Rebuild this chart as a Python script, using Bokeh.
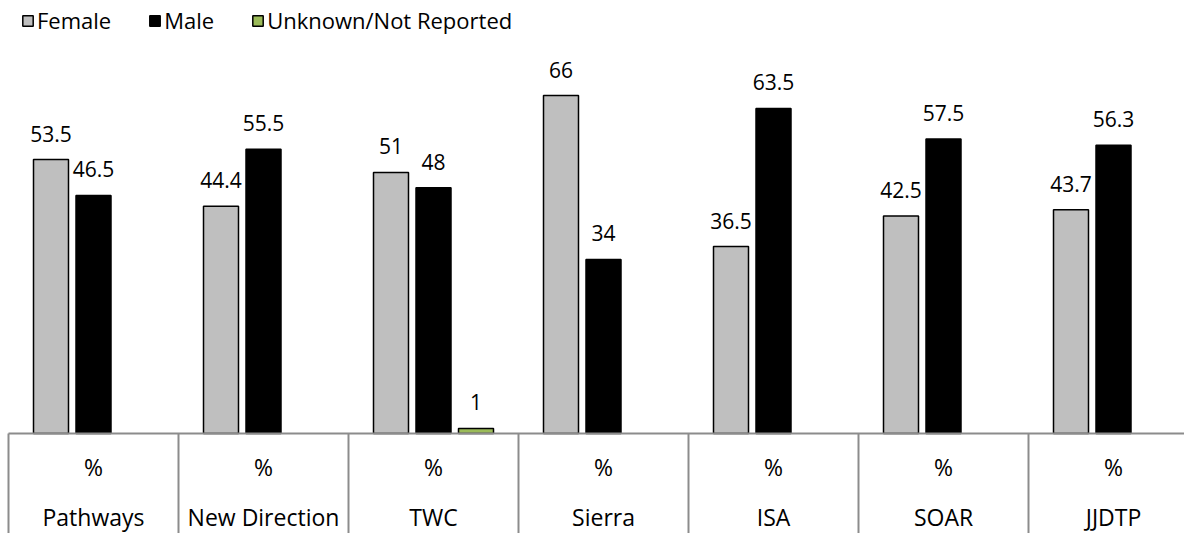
import numpy as np
from bokeh.plotting import figure
from bokeh.models import Range1d, ColumnDataSource, Legend, LegendItem
from bokeh.embed import file_html
from bokeh.resources import INLINE
from bokeh.core.properties import value

# Gender breakdown (%) by program
programs = ["Pathways", "New Direction", "TWC", "Sierra", "ISA", "SOAR", "JJDTP"]
unit_row = ["%", "%", "%", "%", "%", "%", "%"]
female = [53.5, 44.4, 51, 66, 36.5, 42.5, 43.7]
male = [46.5, 55.5, 48, 34, 63.5, 57.5, 56.3]
unknown = [None, None, 1, None, None, None, None]

FONT = "Open Sans"
W, H = 1184, 533
CAT_PX = 170.0          # width of one category cell in pixels
LEFT_PX = 8.0           # left edge of the category table
BASE_PX = 433.0         # baseline position from the top
PX_PER_UNIT = 5.12      # vertical pixels per percent

cx = np.arange(len(programs), dtype=float)
first_center = LEFT_PX + CAT_PX / 2

p = figure(width=W, height=H, output_backend="svg", toolbar_location=None,
           min_border=0, x_axis_location=None, y_axis_location=None)
p.x_range = Range1d(-first_center / CAT_PX, (W - first_center) / CAT_PX)
p.y_range = Range1d(-(H - BASE_PX) / PX_PER_UNIT, BASE_PX / PX_PER_UNIT)
p.xgrid.visible = False
p.ygrid.visible = False
p.outline_line_color = None
p.background_fill_color = "white"
p.border_fill_color = "white"

BAR_W = 35 / CAT_PX
OFFSET = 42.5 / CAT_PX
LABEL_SIZE = "21px"

series = [
    ("Female", female, -OFFSET, "#bfbfbf"),
    ("Male", male, 0.0, "#000000"),
    ("Unknown/Not Reported", unknown, OFFSET, "#9bbb59"),
]

legend_items = []
for name, vals, off, color in series:
    xs = [c + off for c, v in zip(cx, vals) if v is not None]
    ys = [v for v in vals if v is not None]
    src = ColumnDataSource(dict(x=xs, top=ys, label=[f"{v:g}" for v in ys]))
    r = p.vbar(x="x", top="top", bottom=0, width=BAR_W, source=src,
               fill_color=color, line_color="#000000", line_width=1.5)
    p.text(x="x", y="top", text="label", source=src, text_align="center",
           text_baseline="middle", y_offset=-26, text_font=value(FONT),
           text_font_size=LABEL_SIZE, text_color="#000000")
    legend_items.append(LegendItem(label=name, renderers=[r]))

# Category table below the baseline
TABLE_COLOR = "#8c8c8c"
x_end = p.x_range.end
p.segment(x0=[cx[0] - 0.5], y0=[0], x1=[x_end], y1=[0],
          line_color=TABLE_COLOR, line_width=2)
p.segment(x0=cx - 0.5, y0=np.zeros(len(cx)), x1=cx - 0.5,
          y1=np.full(len(cx), p.y_range.start),
          line_color=TABLE_COLOR, line_width=2)

tsrc = ColumnDataSource(dict(x=cx, y=np.zeros(len(cx)), unit=unit_row, name=programs))
p.text(x="x", y="y", text="unit", source=tsrc, text_align="center",
       text_baseline="middle", y_offset=33, text_font=value(FONT),
       text_font_size="23px", text_color="#000000")
p.text(x="x", y="y", text="name", source=tsrc, text_align="center",
       text_baseline="middle", y_offset=83, text_font=value(FONT),
       text_font_size="23px", text_color="#000000")

legend = Legend(items=legend_items, orientation="horizontal",
                location=(21, H - 35), padding=0, margin=0, spacing=37,
                glyph_width=13, glyph_height=13, label_standoff=3,
                label_text_font=FONT, label_text_font_size="22px",
                label_text_color="#000000", border_line_color=None,
                background_fill_alpha=0)
p.add_layout(legend)

open("out.html", "w").write(file_html(p, INLINE))
